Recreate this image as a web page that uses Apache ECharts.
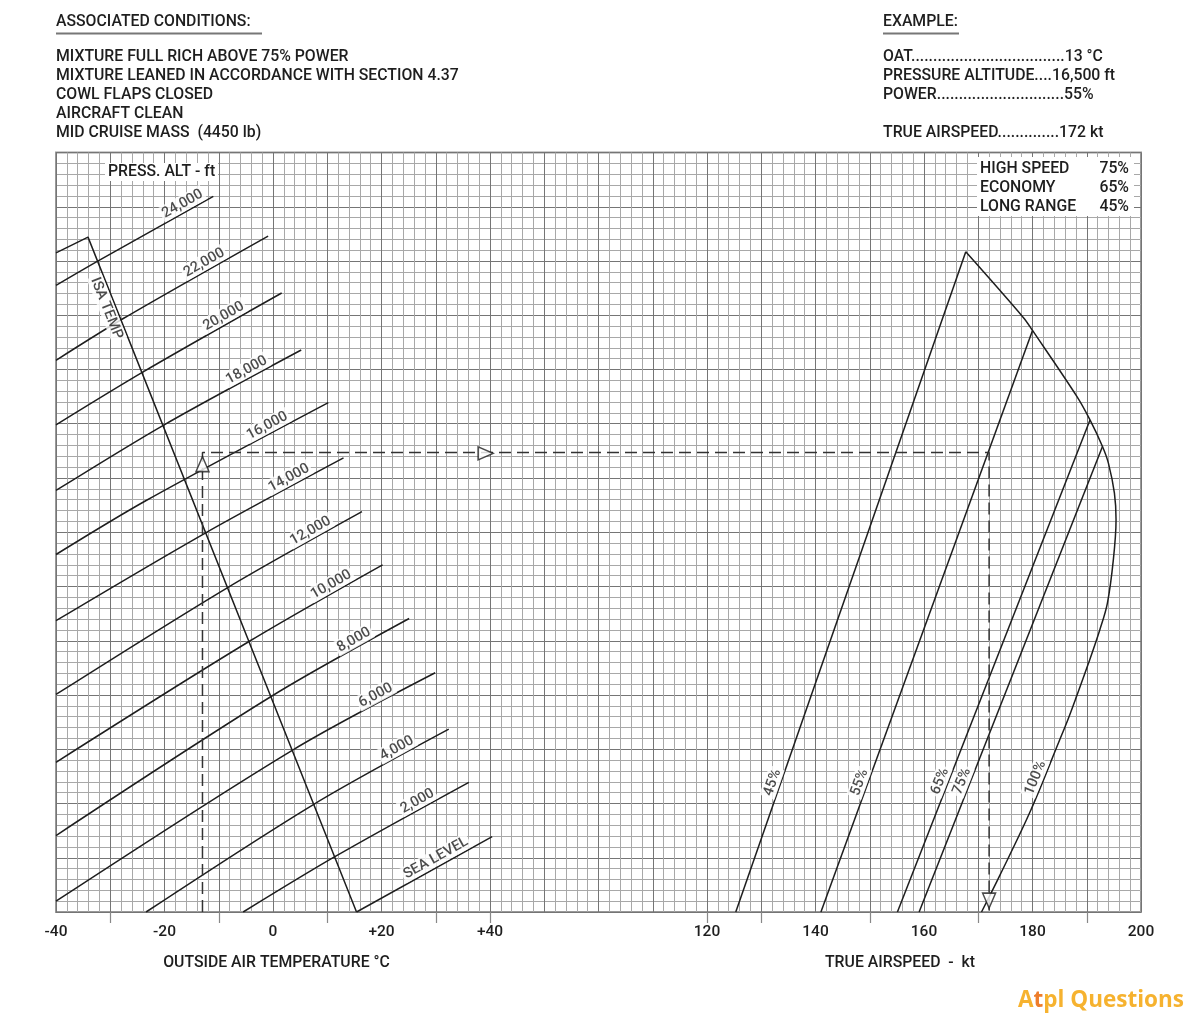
<!DOCTYPE html>
<html>
<head>
<meta charset="utf-8">
<style>
html,body{margin:0;padding:0;background:#fff;}
#c{width:1200px;height:1029px;}
</style>
<script src="https://cdn.jsdelivr.net/npm/echarts@6/dist/echarts.min.js"></script>
</head>
<body>
<div id="c"></div>
<script>
// Chart coordinates: x = OAT + 40 on the left panel, x = true airspeed (kt) on the right panel.
// y = chart units (same scale as x).
const tempTickLabels = [-40, -20, 0, 20, 40];
const tasTickLabels = [120, 140, 160, 180, 200];
const oddTicks = [10, 30, 50, 70, 80, 120, 130, 150, 170, 190];

// Pressure altitude lines (points along each curve)
const alt24000 = [[0, 115.5], [8.1, 120.2], [29.0, 131.9]];
const alt22000 = [[0, 101.7], [12.4, 109.4], [39.1, 124.6]];
const alt20000 = [[0, 89.8], [16.3, 99.7], [41.6, 114.1]];
const alt18000 = [[0, 77.7], [20.1, 89.9], [45.2, 103.6]];
const alt16000 = [[0, 65.9], [16.7, 75.9], [50.2, 93.9]];
const alt14000 = [[0, 53.7], [27.6, 69.9], [53.0, 83.7]];
const alt12000 = [[0, 40.1], [31.8, 59.9], [56.4, 73.8]];
const alt10000 = [[0, 27.6], [35.8, 50.0], [60.2, 64.0]];
const alt8000 = [[0, 14.1], [40.1, 40.0], [65.1, 54.1]];
const alt6000 = [[0, 2.0], [43.7, 29.9], [69.9, 44.1]];
const alt4000 = [[16.6, 0], [47.6, 19.9], [72.4, 33.7]];
const alt2000 = [[34.5, 0], [51.4, 10.2], [76.1, 23.9]];
const altSeaLevel = [[55.4, 0], [80.4, 13.9]];
const altNames = ['24,000', '22,000', '20,000', '18,000', '16,000', '14,000', '12,000',
                  '10,000', '8,000', '6,000', '4,000', '2,000', 'SEA LEVEL'];
const altLabelX = [24.0, 28.0, 31.6, 35.8, 39.6, 43.6, 47.6, 51.4, 55.6, 59.6, 63.5, 67.3, 70.7];

// ISA temperature line
const isaTemp = [[0, 121.5], [5.9, 124.4], [55.4, 0]];

// Power lines (true airspeed panel)
const pwr45 = [[125.3, 0], [167.7, 121.7]];
const pwr55 = [[141.0, 0], [180.0, 107.2]];
const pwr65 = [[155.1, 0], [190.6, 90.7]];
const pwr75 = [[159.1, 0], [192.9, 85.8]];
const pwr100 = [[167.7, 121.7], [178.3, 109.6], [180.0, 107.2], [188.2, 95.0], [190.6, 90.7],
                [192.9, 85.8], [194.0, 82.7], [195.1, 77.2], [195.4, 72.3], [194.9, 64.9],
                [193.8, 56.9], [192.4, 52.0], [190.3, 45.8], [188.1, 39.7], [186.5, 35.4],
                [185.0, 31.7], [179.7, 18.8], [174.0, 6.8], [170.6, 0]];
const pwrNames = ['45%', '55%', '65%', '75%', '100%'];
const pwrLabelY = [23.2, 23.2, 23.4, 23.4, 24.0];

// Worked example
const exampleOAT = -13;
const exampleTAS = 172;
const exampleLevel = 84.7;

const FONT = 'Roboto, "Liberation Sans", sans-serif';
const INK = '#1e1e1e';
const FW = 500;

function ptOnX(pts, x) {
  for (let i = 0; i < pts.length - 1; i++) {
    const a = pts[i], b = pts[i + 1];
    if (x >= Math.min(a[0], b[0]) && x <= Math.max(a[0], b[0])) {
      const t = (x - a[0]) / (b[0] - a[0]);
      return { p: [x, a[1] + t * (b[1] - a[1])], ang: Math.atan((b[1] - a[1]) / (b[0] - a[0])) * 180 / Math.PI };
    }
  }
  const a = pts[pts.length - 2], b = pts[pts.length - 1];
  return { p: b, ang: Math.atan((b[1] - a[1]) / (b[0] - a[0])) * 180 / Math.PI };
}
function ptOnY(pts, y) {
  for (let i = 0; i < pts.length - 1; i++) {
    const a = pts[i], b = pts[i + 1];
    if (y >= Math.min(a[1], b[1]) && y <= Math.max(a[1], b[1])) {
      const t = (y - a[1]) / (b[1] - a[1]);
      return { p: [a[0] + t * (b[0] - a[0]), y], ang: Math.atan((b[1] - a[1]) / (b[0] - a[0])) * 180 / Math.PI };
    }
  }
  return { p: pts[0], ang: 0 };
}

const altLines = [alt24000, alt22000, alt20000, alt18000, alt16000, alt14000, alt12000,
                  alt10000, alt8000, alt6000, alt4000, alt2000, altSeaLevel];
const pwrLines = [pwr45, pwr55, pwr65, pwr75, pwr100];

function lineSeries(name, data, smooth) {
  return {
    name: name, type: 'line', data: data, smooth: smooth, symbol: 'none', silent: true,
    lineStyle: { color: INK, width: 1.5 }, z: 3
  };
}

const series = [];
altLines.forEach((d, i) => series.push(lineSeries(altNames[i], d, 0.3)));
series.push(lineSeries('ISA TEMP', isaTemp, false));
pwrLines.forEach((d, i) => series.push(lineSeries(pwrNames[i], d, i === 4 ? 0.35 : false)));

const exU = exampleOAT + 40;
series.push({
  name: 'example', type: 'line', symbol: 'none', silent: true, z: 4,
  data: [[exU, 0], [exU, exampleLevel], [exampleTAS, exampleLevel], [exampleTAS, 0]],
  lineStyle: { color: '#333', width: 1.5, type: [12, 6] }
});
series.push({
  name: 'arrows', type: 'scatter', silent: true, z: 6,
  symbol: 'triangle', symbolSize: [13, 15],
  itemStyle: { color: '#fff', borderColor: INK, borderWidth: 1.5 },
  data: [
    { value: [exU, exampleLevel - 2.15], symbolRotate: 0 },
    { value: [79.2, exampleLevel - 0.15], symbolRotate: -90 },
    { value: [exampleTAS, 2.1], symbolRotate: 180 }
  ]
});

// Labels along curves
const labelBase = {
  show: true, color: INK, fontSize: 14.5, fontWeight: FW, fontFamily: FONT,
  backgroundColor: '#fff', padding: [1, 2, 0, 2], distance: 1
};
const labelData = [];
altLines.forEach((d, i) => {
  const r = ptOnX(d, altLabelX[i]);
  labelData.push({ value: r.p, label: Object.assign({}, labelBase, { formatter: altNames[i], rotate: r.ang, position: 'top' }) });
});
pwrLines.forEach((d, i) => {
  const r = ptOnY(i === 4 ? d.slice(12) : d, pwrLabelY[i]);
  labelData.push({ value: r.p, label: Object.assign({}, labelBase, { formatter: pwrNames[i], rotate: r.ang, position: 'top' }) });
});
{
  const r = ptOnY(isaTemp.slice(1), 112.2);
  labelData.push({ value: r.p, label: Object.assign({}, labelBase, { formatter: 'ISA TEMP', rotate: r.ang, position: 'bottom', distance: 2 }) });
}
series.push({
  name: 'labels', type: 'scatter', silent: true, z: 5, symbolSize: 0.1,
  itemStyle: { color: 'rgba(0,0,0,0)' }, data: labelData
});

const gridLine = { show: true, lineStyle: { color: '#757575', width: 1 } };
const minorLine = { show: true, lineStyle: { color: '#a8a8a8', width: 1 } };

function txt(x, y, text, size, extra) {
  return {
    type: 'text', z: 20, silent: true,
    style: Object.assign({ x: x, y: y, text: text, font: FW + ' ' + size + 'px ' + FONT, fill: INK,
      align: 'left', verticalAlign: 'middle', textAlign: 'left', textVerticalAlign: 'middle' }, extra || {})
  };
}

const leftHdr = ['MIXTURE FULL RICH ABOVE 75% POWER', 'MIXTURE LEANED IN ACCORDANCE WITH SECTION 4.37',
  'COWL FLAPS CLOSED', 'AIRCRAFT CLEAN', 'MID CRUISE MASS  (4450 lb)'];
const HS = 15.8;

const graphics = [
  txt(56, 22.5, 'ASSOCIATED CONDITIONS:', HS),
  { type: 'line', z: 20, silent: true, shape: { x1: 56, y1: 33.5, x2: 262, y2: 33.5 }, style: { stroke: '#777', lineWidth: 2 } },
  txt(883, 22.5, 'EXAMPLE:', HS),
  { type: 'line', z: 20, silent: true, shape: { x1: 883, y1: 33.5, x2: 959, y2: 33.5 }, style: { stroke: '#777', lineWidth: 2 } },
  txt(883, 57.5, 'OAT...................................13 °C', HS),
  txt(883, 76.5, 'PRESSURE ALTITUDE....16,500 ft', HS),
  txt(883, 95.5, 'POWER.............................55%', HS),
  txt(883, 133.5, 'TRUE AIRSPEED..............172 kt', HS),
  // legend box
  { type: 'rect', z: 15, silent: true, shape: { x: 977, y: 157, width: 157, height: 59 }, style: { fill: '#fff' } },
  txt(980, 169.5, 'HIGH SPEED', HS),
  txt(980, 188.5, 'ECONOMY', HS),
  txt(980, 207.5, 'LONG RANGE', HS),
  txt(1129, 169.5, '75%', HS, { align: 'right', textAlign: 'right' }),
  txt(1129, 188.5, '65%', HS, { align: 'right', textAlign: 'right' }),
  txt(1129, 207.5, '45%', HS, { align: 'right', textAlign: 'right' }),
  // press alt box
  { type: 'rect', z: 15, silent: true, shape: { x: 105, y: 163, width: 113, height: 18 }, style: { fill: '#fff' } },
  txt(108, 172.5, 'PRESS. ALT - ft', HS),
  // axis titles
  txt(276.5, 963.5, 'OUTSIDE AIR TEMPERATURE °C', HS, { align: 'center', textAlign: 'center' }),
  txt(900, 963.5, 'TRUE AIRSPEED  -  kt', HS, { align: 'center', textAlign: 'center' }),
  // logo
  {
    type: 'text', z: 20, silent: true,
    style: {
      x: 1018, y: 1001, text: '{a|A}{t|t}{a|pl Questions}', verticalAlign: 'middle', textVerticalAlign: 'middle',
      rich: {
        a: { fontSize: 22.5, fontFamily: '"Open Sans", Lato, sans-serif', fontWeight: 700, fill: '#f6b22f', color: '#f6b22f' },
        t: { fontSize: 22.5, fontFamily: '"Open Sans", Lato, sans-serif', fontWeight: 700, fill: '#ee7d2b', color: '#ee7d2b' }
      }
    }
  }
];
leftHdr.forEach((s, i) => graphics.push(txt(56, 57.5 + i * 19, s, HS)));

const option = {
  animation: false,
  backgroundColor: '#fff',
  grid: { left: 56, right: 59, top: 152.5, bottom: 117, show: true, borderColor: '#999', borderWidth: 2, backgroundColor: 'transparent' },
  xAxis: [
    {
      type: 'value', min: 0, max: 200, interval: 10,
      axisLine: { show: false }, axisTick: { show: false }, axisLabel: { show: false },
      splitLine: gridLine, minorTick: { show: false, splitNumber: 5 }, minorSplitLine: minorLine
    },
    {
      type: 'value', min: 0, max: 200, position: 'bottom',
      axisLine: { show: false }, splitLine: { show: false },
      axisTick: { show: true, customValues: oddTicks, length: 11, lineStyle: { color: '#888', width: 1.2 } },
      axisLabel: {
        show: true, margin: 12, fontSize: 15.5, fontWeight: FW, fontFamily: FONT, color: INK,
        customValues: tempTickLabels.map(t => t + 40).concat(tasTickLabels),
        formatter: v => v <= 80 ? ((v - 40 > 0 ? '+' : '') + (v - 40)) : String(v)
      }
    }
  ],
  yAxis: {
    type: 'value', min: 0, max: 140, interval: 10,
    axisLine: { show: false }, axisTick: { show: false }, axisLabel: { show: false },
    splitLine: gridLine, minorTick: { show: false, splitNumber: 5 }, minorSplitLine: minorLine
  },
  series: series,
  graphic: graphics
};

const chart = echarts.init(document.getElementById('c'));
chart.setOption(option);
</script>
</body>
</html>
